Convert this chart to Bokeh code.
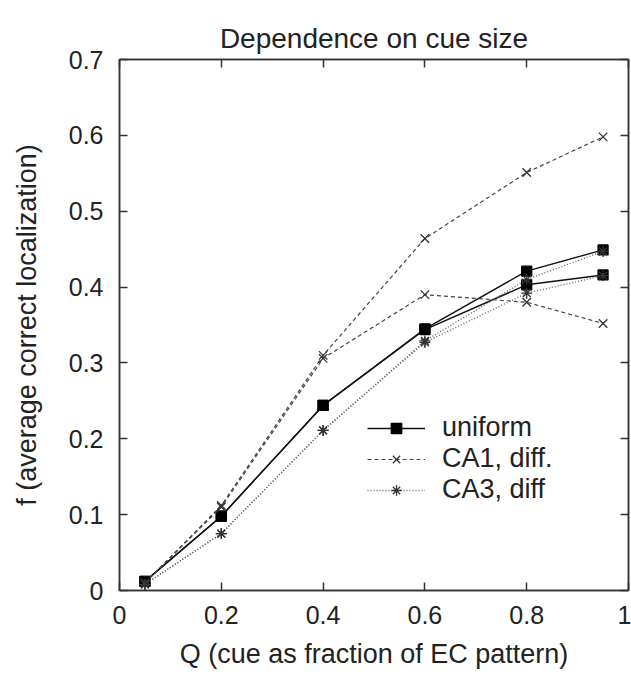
from bokeh.plotting import figure
from bokeh.models import LinearAxis, FixedTicker, Range1d, Legend, LegendItem
from bokeh.embed import file_html
from bokeh.resources import INLINE

# ---- data ----
q = [0.05, 0.2, 0.4, 0.6, 0.8, 0.95]
uniform_a = [0.012, 0.098, 0.244, 0.345, 0.421, 0.449]
uniform_b = [0.012, 0.098, 0.244, 0.344, 0.403, 0.416]
ca1_a = [0.010, 0.112, 0.310, 0.464, 0.551, 0.598]
ca1_b = [0.010, 0.110, 0.306, 0.390, 0.380, 0.352]
ca3_a = [0.008, 0.075, 0.211, 0.329, 0.410, 0.447]
ca3_b = [0.008, 0.075, 0.211, 0.327, 0.392, 0.415]

x_ticks = [0, 0.2, 0.4, 0.6, 0.8, 1.0]
x_tick_labels = ["0", "0.2", "0.4", "0.6", "0.8", "1"]
y_ticks = [0, 0.1, 0.2, 0.3, 0.4, 0.5, 0.6, 0.7]
y_tick_labels = ["0", "0.1", "0.2", "0.3", "0.4", "0.5", "0.6", "0.7"]

FONT = "Liberation Sans"
TXT = "#222222"

p = figure(frame_width=509, frame_height=531,
           x_range=Range1d(0, 1), y_range=Range1d(0, 0.7),
           output_backend="svg", toolbar_location=None,
           min_border_left=119, min_border_right=3,
           min_border_top=59, min_border_bottom=85,
           background_fill_color="white", border_fill_color="white")

p.title.text = "Dependence on cue size"
p.title.text_font = FONT
p.title.text_font_size = "28px"
p.title.text_font_style = "normal"
p.title.text_color = TXT
p.title.align = "center"
p.title.standoff = 12

p.grid.visible = False
p.outline_line_color = "#333333"
p.outline_line_width = 1.5

def style_axis(ax, ticks, labels, show_labels=True):
    ax.ticker = FixedTicker(ticks=ticks)
    ax.minor_tick_line_color = None
    ax.major_tick_in = 8
    ax.major_tick_out = 0
    ax.major_tick_line_color = "#333333"
    ax.major_tick_line_width = 1.5
    ax.axis_line_color = "#333333"
    ax.axis_line_width = 1.5
    ax.major_label_text_font = FONT
    ax.major_label_text_color = TXT
    ax.major_label_overrides = {t: l for t, l in zip(ticks, labels)}
    if show_labels:
        ax.major_label_text_font_size = "25px"
    else:
        ax.major_label_text_font_size = "0px"
        ax.major_label_standoff = 0

xa = p.xaxis[0]
ya = p.yaxis[0]
style_axis(xa, x_ticks, x_tick_labels)
style_axis(ya, y_ticks, y_tick_labels)
xa.major_label_standoff = 15
ya.major_label_standoff = 16
xa.axis_label = "Q (cue as fraction of EC pattern)"
ya.axis_label = "f (average correct localization)"
for ax in (xa, ya):
    ax.axis_label_text_font = FONT
    ax.axis_label_text_font_size = "27px"
    ax.axis_label_text_font_style = "normal"
    ax.axis_label_text_color = TXT
xa.axis_label_standoff = 12
ya.axis_label_standoff = 24

top_ax = LinearAxis()
right_ax = LinearAxis()
style_axis(top_ax, x_ticks, x_tick_labels, show_labels=False)
style_axis(right_ax, y_ticks, y_tick_labels, show_labels=False)
p.add_layout(top_ax, "above")
p.add_layout(right_ax, "right")

# ---- series ----
def series(y, color, dash, width, marker, msize, mcolor, fill):
    ln = p.line(q, y, line_color=color, line_dash=dash, line_width=width)
    sc = p.scatter(q, y, marker=marker, size=msize, line_color=mcolor,
                   fill_color=fill, line_width=1.3)
    return ln, sc

u1 = series(uniform_a, "#111111", "solid", 1.4, "square", 10, "#000000", "#000000")
u2 = series(uniform_b, "#111111", "solid", 1.4, "square", 10, "#000000", "#000000")
c1 = series(ca1_a, "#444444", "4 3", 1.2, "x", 12, "#333333", None)
c1b = series(ca1_b, "#444444", "4 3", 1.2, "x", 12, "#333333", None)
c3 = series(ca3_a, "#666666", "1 2", 1.4, "asterisk", 11, "#333333", None)
c3b = series(ca3_b, "#666666", "1 2", 1.4, "asterisk", 11, "#333333", None)

legend = Legend(items=[
    LegendItem(label="uniform", renderers=list(u1)),
    LegendItem(label="CA1, diff.", renderers=list(c1)),
    LegendItem(label="CA3, diff", renderers=list(c3)),
], location=(248, 85))
legend.label_text_font = FONT
legend.label_text_font_size = "27px"
legend.label_text_color = TXT
legend.glyph_width = 58
legend.glyph_height = 26
legend.label_height = 26
legend.label_standoff = 17
legend.spacing = 0
legend.padding = 0
legend.margin = 0
legend.border_line_alpha = 0
legend.background_fill_alpha = 0
p.add_layout(legend)

open("out.html", "w").write(file_html(p, INLINE))
